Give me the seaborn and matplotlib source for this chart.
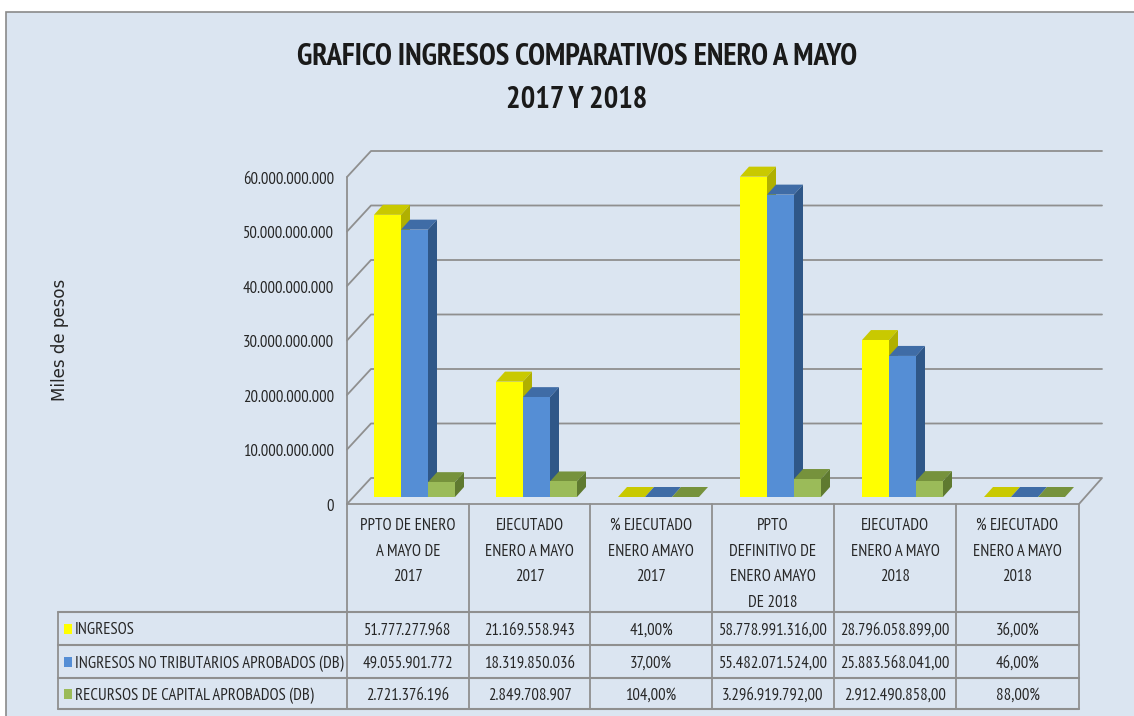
#!/usr/bin/env python

import numpy as np
import pandas as pd
import matplotlib
matplotlib.use('Agg')
import matplotlib.pyplot as plt
import matplotlib.font_manager as fm
import seaborn as sns
from matplotlib.patches import Polygon, Rectangle
from matplotlib.transforms import ScaledTranslation

# Data
categories = [
    'PPTO DE ENERO\nA MAYO DE\n2017',
    'EJECUTADO\nENERO A MAYO\n2017',
    '% EJECUTADO\nENERO AMAYO\n2017',
    'PPTO\nDEFINITIVO DE\nENERO AMAYO\nDE 2018',
    'EJECUTADO\nENERO A MAYO\n2018',
    '% EJECUTADO\nENERO A MAYO\n2018',
]
series_names = [
    'INGRESOS',
    'INGRESOS NO TRIBUTARIOS APROBADOS (DB)',
    'RECURSOS DE CAPITAL APROBADOS (DB)',
]
ingresos = [51777277968, 21169558943, 0.41, 58778991316, 28796058899, 0.36]
no_tributarios = [49055901772, 18319850036, 0.37, 55482071524, 25883568041, 0.46]
capital = [2721376196, 2849708907, 1.04, 3296919792, 2912490858, 0.88]
series_values = [ingresos, no_tributarios, capital]
y_ticks = [0, 10000000000, 20000000000, 30000000000, 40000000000, 50000000000, 60000000000]

front_colors = ['#FFFF00', '#558ED5', '#9BBB59']
top_colors = ['#C9C900', '#3F6CA6', '#76923C']
side_colors = ['#B0B000', '#2F5788', '#5F7A30']
LINE = '#8F8F8F'
TEXT = '#262626'


def fmt_cell(val, col):
    """Table text, with the dots and commas of the original."""
    if col in (2, 5):
        return f'{val * 100:.2f}%'.replace('.', ',')
    txt = f'{val:,.0f}'.replace(',', '.')
    return txt + ',00' if col in (3, 4) else txt


sns.set_theme(style='white')

# The original text is very narrow; fall back to smaller Liberation Sans if no narrow face exists
installed = {f.name for f in fm.fontManager.ttflist}
if 'PT Sans Narrow' in installed:
    plt.rcParams['font.family'] = ['PT Sans Narrow', 'Liberation Sans', 'DejaVu Sans']
    scale = 1.0
else:
    plt.rcParams['font.family'] = ['Liberation Sans', 'DejaVu Sans']
    scale = 0.72

W, H = 1134, 716
fig = plt.figure(figsize=(W / 100, H / 100), dpi=100, facecolor='white')

# Pixel canvas for the frame, walls, floor and table
bg = fig.add_axes([0, 0, 1, 1], zorder=0)
bg.set_xlim(0, W)
bg.set_ylim(H, 0)
bg.axis('off')
bg.add_patch(Rectangle((6, 12), W, H, facecolor='#DBE5F1', edgecolor='#8A8A8A', linewidth=1.2))

# Chart walls
px_per_value = 327 / 60000000000
wall_x0, wall_x1, wall_x2 = 347, 371, 1102
floor_y, depth_y = 504, 26
for t in y_ticks[1:]:
    yy = floor_y - t * px_per_value
    bg.plot([wall_x0, wall_x1, wall_x2], [yy, yy - depth_y, yy - depth_y], color=LINE, lw=1.3)
bg.plot([wall_x0, wall_x0], [floor_y, floor_y - 60000000000 * px_per_value], color=LINE, lw=1.3)
bg.plot([wall_x0, wall_x1, wall_x2, 1079, wall_x0],
        [floor_y, floor_y - depth_y, floor_y - depth_y, floor_y, floor_y], color=LINE, lw=1.3)

# Table
col_x = [347, 469, 590, 712, 834, 956, 1079]
row_y = [612, 645, 678, 709]
for x in col_x:
    bg.plot([x, x], [504, row_y[-1]], color=LINE, lw=1.3)
bg.plot([58, 58], [row_y[0], row_y[-1]], color=LINE, lw=1.3)
for y in row_y:
    bg.plot([58, col_x[-1]], [y, y], color=LINE, lw=1.5)

for i, cat in enumerate(categories):
    cx = (col_x[i] + col_x[i + 1]) / 2
    for j, line in enumerate(cat.split('\n')):
        bg.text(cx, 526 + j * 25.7, line, ha='center', va='center', fontsize=12 * scale, color=TEXT)
for r, name in enumerate(series_names):
    cy = (row_y[r] + row_y[r + 1]) / 2
    bg.add_patch(Rectangle((64, cy - 5), 8, 10, facecolor=front_colors[r], edgecolor='none'))
    bg.text(75, cy + 2, name, ha='left', va='center', fontsize=12 * scale, color=TEXT)
    for i, val in enumerate(series_values[r]):
        cx = (col_x[i] + col_x[i + 1]) / 2
        bg.text(cx, cy + 2, fmt_cell(val, i), ha='center', va='center', fontsize=12 * scale, color=TEXT)

# Titles
bg.text(577, 57, 'GRAFICO INGRESOS COMPARATIVOS ENERO A MAYO', ha='center', va='center',
        fontsize=22 * scale, fontweight='bold', color='#1A1A1A')
bg.text(577, 100, '2017 Y 2018', ha='center', va='center',
        fontsize=22 * scale, fontweight='bold', color='#1A1A1A')
bg.text(60, 340, 'Miles de pesos', rotation=90, ha='center', va='center',
        fontsize=12, color=TEXT, family='DejaVu Sans')

# Bars
rows = []
for name, vals in zip(series_names, series_values):
    for cat, v in zip(categories, vals):
        rows.append({'cat': cat, 'serie': name, 'valor': v})
df = pd.DataFrame(rows)

ax_left, ax_right = 353.5, 1085.5
ax_bottom, ax_top = 497, 170
ax = fig.add_axes([ax_left / W, 1 - ax_bottom / H, (ax_right - ax_left) / W, (ax_bottom - ax_top) / H],
                  zorder=1)
ax.patch.set_alpha(0)
sns.barplot(data=df, x='cat', y='valor', hue='serie', order=categories, hue_order=series_names,
            palette=front_colors, saturation=1, width=81 / 122, gap=0, legend=False, ax=ax,
            linewidth=0, estimator=np.sum, errorbar=None)
ax.set_xlim(-0.5, 5.5)
ax.set_ylim(0, 60000000000)
ax.set_xlabel('')
ax.set_ylabel('')
ax.set_xticks([])
ax.set_yticks(y_ticks)
ax.set_yticklabels([f'{t:,.0f}'.replace(',', '.') for t in y_ticks], fontsize=12 * scale, color=TEXT)
ax.tick_params(axis='y', length=0, pad=14)
sns.despine(ax=ax, left=True, bottom=True)

# Tick labels sit on the front edge of the wall, a little below the bar base
shift = ScaledTranslation(0, -8 / 100, fig.dpi_scale_trans)
for lab in ax.get_yticklabels():
    lab.set_transform(lab.get_transform() + shift)

# Fake 3D: top and side faces built from each seaborn bar
dx = 9 / 122
dy = 10 / px_per_value
for s, cont in enumerate(ax.containers):
    for rect in cont:
        x0, w, h = rect.get_x(), rect.get_width(), rect.get_height()
        rect.set_zorder(3 + 2 * s)
        rect.set_clip_on(False)
        top = [(x0, h), (x0 + dx, h + dy), (x0 + w + dx, h + dy), (x0 + w, h)]
        side = [(x0 + w, 0), (x0 + w + dx, dy), (x0 + w + dx, h + dy), (x0 + w, h)]
        ax.add_patch(Polygon(top, closed=True, facecolor=top_colors[s], edgecolor='none',
                             zorder=2 + 2 * s, clip_on=False))
        ax.add_patch(Polygon(side, closed=True, facecolor=side_colors[s], edgecolor='none',
                             zorder=2 + 2 * s, clip_on=False))

fig.savefig('out.png', dpi=100)
